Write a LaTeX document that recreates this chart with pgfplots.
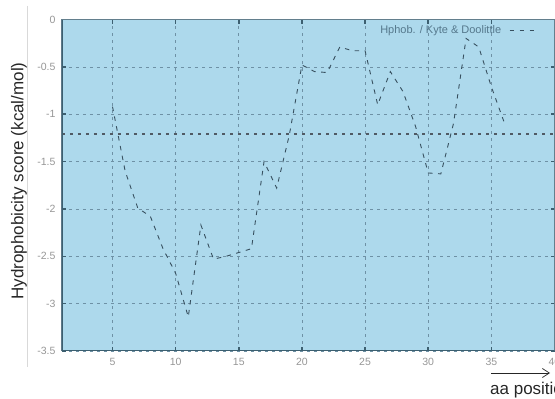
\documentclass[border=0pt]{standalone}
\usepackage{pgfplots}
\pgfplotsset{compat=1.18}
\usepackage{fontspec}
\setmainfont{Liberation Sans}
\usetikzlibrary{arrows.meta}
\definecolor{bgblue}{RGB}{173,217,236}
\definecolor{framec}{RGB}{60,95,112}
\definecolor{gridc}{RGB}{110,145,165}
\definecolor{linec}{RGB}{55,80,95}
\definecolor{legc}{RGB}{85,120,140}
\definecolor{tickc}{RGB}{150,150,150}
\definecolor{meanc}{RGB}{80,90,100}

\pgfplotstableread{
x y
5 -0.92
6 -1.60
7 -1.99
8 -2.08
9 -2.42
10 -2.68
11 -3.14
12 -2.17
13 -2.53
14 -2.50
15 -2.46
16 -2.42
17 -1.50
18 -1.78
19 -1.22
20 -0.48
21 -0.55
22 -0.56
23 -0.29
24 -0.33
25 -0.33
26 -0.90
27 -0.55
28 -0.76
29 -1.13
30 -1.62
31 -1.63
32 -1.10
33 -0.20
34 -0.29
35 -0.71
36 -1.08
}\hydro

\begin{document}
\begin{tikzpicture}
\draw[gray!30, line width=0.6pt] (-35pt,345pt) -- (-35pt,-16pt);
\begin{axis}[
  at={(0,0)}, anchor=south west,
  scale only axis, width=492.5pt, height=331.5pt,
  xmin=1, xmax=40, ymin=-3.5, ymax=0,
  axis background/.style={fill=bgblue},
  axis line style={draw=framec!80, line width=1pt},
  xtick={5,10,...,40},
  ytick={-3.5,-3,...,0},
  tick align=inside,
  major tick length=4pt,
  tick style={framec, line width=1.5pt},
  grid=major,
  major grid style={gridc, line width=0.6pt, dash pattern=on 3pt off 4pt},
  /pgf/number format/assume math mode=true,
  yticklabel style={/pgf/number format/fixed, /pgf/number format/precision=1, xshift=-3pt},
  xticklabel style={yshift=-4pt},
  ticklabel style={font=\fontsize{10.5}{12}\selectfont, text=tickc},
  legend style={draw=none, fill=none, at={(0.967,0.99)}, anchor=north east,
    font=\fontsize{11}{13}\selectfont, text=legc, inner sep=1pt},
  legend plot pos=right,
  legend image code/.code={\path (0pt,0pt); \draw[#1] (6pt,0pt) -- (33pt,0pt);},
]
\addplot[meanc, line width=1.4pt, dash pattern=on 3pt off 5pt, forget plot] coordinates {(1,-1.21) (40,-1.21)};
\addplot[linec, line width=0.9pt, dash pattern=on 4.5pt off 5.5pt] table[x=x,y=y] {\hydro};
\addlegendentry{Hphob. / Kyte \& Doolittle}
\draw[framec, line width=2.5pt] (rel axis cs:0,1) -- (rel axis cs:0,0) -- (rel axis cs:1,0);
\end{axis}
\node[rotate=90, font=\fontsize{17}{20}\selectfont, text=black!85] at (-43pt,170pt) {Hydrophobicity score (kcal/mol)};
\draw[black!85, line width=0.7pt, -{Straight Barb[length=7pt,width=9pt,line width=0.7pt]}] (429pt,-22pt) -- (488pt,-22pt);
\node[anchor=base west, font=\fontsize{17}{20}\selectfont, inner sep=0pt, text=black!85] at (428pt,-44pt) {aa position};
\pgfresetboundingbox
\useasboundingbox (-62pt,-48pt) rectangle (493pt,351pt);
\end{tikzpicture}
\end{document}
